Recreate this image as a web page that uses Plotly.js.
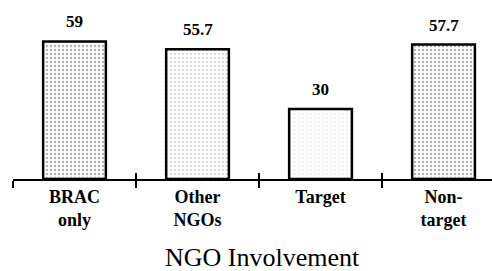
<!DOCTYPE html>
<html>
<head>
<meta charset="utf-8">
<script src="https://cdn.plot.ly/plotly-3.0.1.min.js"></script>
<style>html,body{margin:0;padding:0;background:#fff;}#chart{width:492px;height:271px;}</style>
</head>
<body>
<div id="chart"></div>
<script>
const categories = ["BRAC<br>only", "Other<br>NGOs", "Target", "Non-<br>target"];
const values = [59, 55.7, 30, 57.7];
const valueLabels = ["59", "55.7", "30", "57.7"];
const solidity = [0.3, 0.14, 0.06, 0.32];
const axisTitle = "NGO Involvement";

const serif = "Liberation Serif";

const trace = {
  type: "bar",
  x: categories,
  y: values,
  width: 0.51,
  marker: {
    color: "#ffffff",
    line: {color: "#000000", width: 2.5},
    pattern: {shape: ".", fgcolor: "#666666", bgcolor: "#ffffff", size: 4, solidity: solidity, fillmode: "overlay"}
  },
  hoverinfo: "skip"
};

const tickTrace = {
  type: "scatter", x: [0], y: [0], xaxis: "x2", mode: "none", hoverinfo: "skip", showlegend: false
};

const annotations = categories.map((c, i) => ({
  x: c, y: values[i], xref: "x", yref: "y",
  text: "<b>" + valueLabels[i] + "</b>",
  showarrow: false, yanchor: "bottom", yshift: 8,
  font: {family: serif, size: 17, color: "#000"}
}));
annotations.push({
  x: 0.52, y: -0.44, xref: "paper", yref: "paper",
  text: axisTitle, showarrow: false, xanchor: "center", yanchor: "middle",
  font: {family: serif, size: 26, color: "#000"}
});

const layout = {
  width: 492, height: 271,
  margin: {l: 13, r: 0, t: 0, b: 92},
  paper_bgcolor: "#ffffff",
  plot_bgcolor: "#ffffff",
  showlegend: false,
  font: {family: serif},
  xaxis: {
    type: "category",
    range: [-0.5, 3.394],
    showline: true, linecolor: "#000", linewidth: 2,
    ticks: "outside", tickson: "boundaries", ticklen: 7, tickwidth: 1.5, tickcolor: "#000",
    showgrid: false, zeroline: false,
    tickfont: {family: serif, size: 18, color: "#000", weight: "bold"},
    automargin: false
  },
  xaxis2: {
    overlaying: "x", anchor: "y",
    range: [-0.5, 3.394],
    tickvals: [-0.5, 0.5, 1.5, 2.5],
    ticks: "inside", ticklen: 6, tickwidth: 1.5, tickcolor: "#000",
    showticklabels: false, showgrid: false, zeroline: false, showline: false,
    side: "bottom"
  },
  yaxis: {
    range: [0, 76.8],
    visible: false,
    showgrid: false, zeroline: false
  },
  annotations: annotations
};

Plotly.newPlot("chart", [trace, tickTrace], layout, {staticPlot: true, displayModeBar: false});
</script>
</body>
</html>
